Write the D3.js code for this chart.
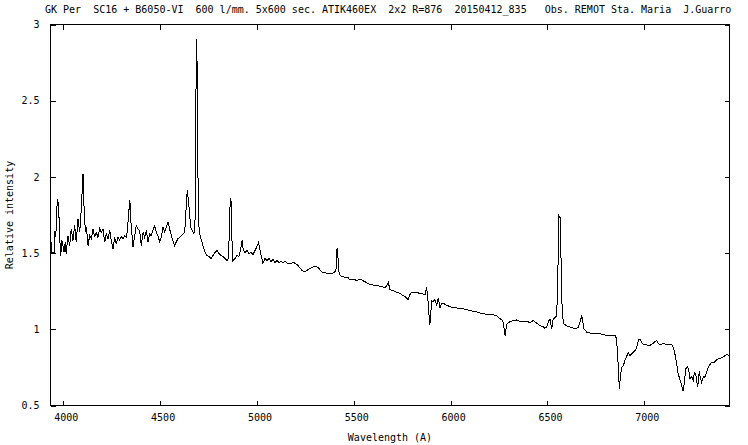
<!DOCTYPE html>
<html>
<head>
<meta charset="utf-8">
<script src="https://cdn.jsdelivr.net/npm/d3@7"></script>
<style>
  html, body { margin: 0; padding: 0; background: #fff; }
  svg { display: block; }
  text { font-family: "DejaVu Sans Mono", "Liberation Mono", monospace; font-size: 10px; fill: #000; }
</style>
</head>
<body>
<script>
const titleText = " GK Per  SC16 + B6050-VI  600 l/mm. 5x600 sec. ATIK460EX  2x2 R=876  20150412_835   Obs. REMOT Sta. Maria  J.Guarro";
const xLabel = "Wavelength (A)";
const yLabel = "Relative intensity";
const xTicks = [4000, 4500, 5000, 5500, 6000, 6500, 7000];
const yTicks = [0.5, 1, 1.5, 2, 2.5, 3];
const xDomain = [3934, 7440];
const yDomain = [0.5, 3];

const wavelength = [
3935,3938,3956,3957,3961,3964,3969,3976,3981,3987,3993,4004,4010,4015,4024,4033,4041,4050,4059,4067,
4076,4085,4093,4102,4107,4114,4119,4128,4136,4145,4153,4162,4170,4179,4188,4196,4205,4214,4222,4231,
4240,4248,4257,4265,4274,4282,4291,4299,4308,4317,4325,4330,4338,4344,4348,4355,4360,4369,4377,4386,
4394,4403,4412,4420,4429,4437,4446,4454,4463,4472,4480,4489,4498,4506,4515,4524,4532,4541,4549,4558,
4566,4575,4583,4592,4609,4627,4635,4640,4647,4658,4670,4675,4682,4684,4687,4690,4694,4697,4703,4711,
4721,4732,4742,4752,4763,4773,4783,4794,4804,4814,4825,4835,4845,4853,4859,4862,4866,4870,4876,4887,
4897,4907,4915,4923,4930,4938,4949,4959,4969,4980,4990,5000,5008,5016,5023,5031,5041,5052,5062,5072,
5083,5093,5103,5114,5124,5134,5145,5160,5171,5191,5212,5233,5248,5263,5284,5300,5315,5336,5356,5377,
5393,5408,5412,5415,5418,5422,5429,5444,5455,5470,5480,5496,5515,5527,5541,5553,5563,5573,5584,5599,
5615,5635,5651,5661,5671,5678,5687,5702,5721,5739,5754,5764,5780,5790,5799,5816,5831,5842,5857,5868,
5876,5885,5890,5893,5897,5902,5909,5919,5928,5936,5945,5953,5962,5980,5997,6014,6030,6048,6064,6083,
6100,6117,6134,6152,6177,6203,6221,6238,6255,6269,6276,6281,6285,6289,6306,6324,6340,6358,6374,6393,
6410,6427,6443,6461,6477,6487,6496,6504,6513,6522,6530,6539,6548,6556,6559,6565,6568,6573,6582,6593,
6608,6624,6642,6659,6671,6677,6683,6689,6703,6720,6737,6753,6771,6789,6806,6823,6838,6849,6857,6866,
6871,6876,6883,6892,6900,6909,6917,6926,6935,6943,6952,6961,6969,6978,6987,6995,7012,7029,7046,7064,
7072,7081,7098,7116,7133,7141,7150,7158,7167,7175,7188,7201,7208,7214,7224,7231,7236,7245,7253,7259,
7265,7276,7284,7290,7296,7305,7313,7322,7330,7339,7348,7360,7374,7386,7400,7411,7425,7437
];

const intensity = [
1.655,1.504,1.504,1.648,1.609,1.675,1.856,1.812,1.615,1.484,1.583,1.506,1.572,1.495,1.615,1.550,1.659,1.583,1.681,1.572,
1.725,1.637,1.791,2.020,1.812,1.637,1.670,1.550,1.615,1.594,1.659,1.604,1.637,1.604,1.659,1.637,1.659,1.572,1.627,1.594,
1.648,1.583,1.528,1.604,1.561,1.604,1.583,1.611,1.594,1.615,1.604,1.637,1.768,1.845,1.725,1.615,1.539,1.615,1.681,1.659,
1.648,1.550,1.637,1.604,1.648,1.572,1.627,1.615,1.648,1.681,1.637,1.615,1.572,1.604,1.670,1.637,1.670,1.703,1.659,1.615,
1.583,1.550,1.572,1.594,1.615,1.637,1.812,1.911,1.834,1.670,1.637,1.629,1.747,2.304,2.906,2.829,2.304,1.734,1.635,1.596,
1.550,1.504,1.484,1.478,1.465,1.484,1.504,1.517,1.497,1.484,1.478,1.465,1.451,1.465,1.714,1.858,1.845,1.615,1.451,1.465,
1.484,1.478,1.517,1.583,1.517,1.504,1.517,1.497,1.504,1.491,1.517,1.543,1.570,1.517,1.478,1.432,1.465,1.451,1.465,1.445,
1.458,1.438,1.451,1.438,1.445,1.438,1.445,1.432,1.432,1.438,1.419,1.386,1.375,1.392,1.407,1.412,1.407,1.375,1.369,1.366,
1.368,1.386,1.517,1.535,1.484,1.386,1.353,1.346,1.338,1.340,1.325,1.330,1.320,1.327,1.325,1.314,1.309,1.301,1.294,1.291,
1.287,1.283,1.278,1.272,1.287,1.309,1.259,1.255,1.243,1.235,1.222,1.215,1.194,1.228,1.243,1.238,1.241,1.233,1.232,1.228,
1.276,1.167,1.058,1.031,1.091,1.189,1.182,1.194,1.156,1.207,1.141,1.169,1.171,1.156,1.150,1.141,1.140,1.134,1.136,1.128,
1.123,1.119,1.114,1.106,1.100,1.097,1.094,1.091,1.069,1.058,1.005,0.959,0.992,1.031,1.051,1.058,1.061,1.053,1.051,1.051,
1.045,1.058,1.041,1.025,1.018,1.007,1.014,1.047,1.069,1.003,1.069,1.077,1.091,1.495,1.747,1.734,1.648,1.211,1.036,1.028,
1.018,1.012,1.003,1.012,1.058,1.091,1.045,1.003,0.981,0.976,0.970,0.972,0.970,0.966,0.959,0.959,0.956,0.959,0.938,0.751,
0.610,0.677,0.751,0.762,0.795,0.822,0.850,0.828,0.839,0.848,0.861,0.881,0.927,0.938,0.913,0.900,0.897,0.894,0.909,0.927,
0.907,0.900,0.907,0.900,0.900,0.900,0.881,0.839,0.774,0.708,0.653,0.594,0.664,0.741,0.756,0.717,0.675,0.690,0.664,0.717,
0.708,0.620,0.725,0.677,0.653,0.690,0.686,0.717,0.751,0.769,0.784,0.782,0.800,0.808,0.813,0.822,0.835,0.828
];

const W = 748, H = 445;
const mLeft = 50.5, mRight = 729.5, mTop = 24.5, mBottom = 405.5;
const tickLen = 5;

const svg = d3.select("body").append("svg").attr("width", W).attr("height", H);
svg.append("rect").attr("width", W).attr("height", H).attr("fill", "#fff");

const x = d3.scaleLinear().domain(xDomain).range([mLeft, mRight]);
const y = d3.scaleLinear().domain(yDomain).range([mBottom, mTop]);

const gB = svg.append("g").attr("transform", `translate(0,${mBottom})`)
  .call(d3.axisBottom(x).tickValues(xTicks).tickSize(-tickLen).tickPadding(8).tickFormat(d3.format("d")));
const gT = svg.append("g").attr("transform", `translate(0,${mTop})`)
  .call(d3.axisTop(x).tickValues(xTicks).tickSize(-tickLen).tickFormat(""));
const gL = svg.append("g").attr("transform", `translate(${mLeft},0)`)
  .call(d3.axisLeft(y).tickValues(yTicks).tickSize(-tickLen).tickPadding(11).tickFormat(d => String(d)));
const gR = svg.append("g").attr("transform", `translate(${mRight},0)`)
  .call(d3.axisRight(y).tickValues(yTicks).tickSize(-tickLen).tickFormat(""));

[gB, gT, gL, gR].forEach(g => {
  g.select(".domain").remove();
  g.selectAll(".tick line").attr("stroke", "#000").attr("shape-rendering", "crispEdges");
  g.selectAll("text").attr("font-family", null).attr("font-size", null).attr("fill", "#000");
});
gB.selectAll(".tick text").attr("dx", "2.5");

svg.append("rect")
  .attr("x", mLeft).attr("y", mTop)
  .attr("width", mRight - mLeft).attr("height", mBottom - mTop)
  .attr("fill", "none").attr("stroke", "#000").attr("stroke-width", 1)
  .attr("shape-rendering", "crispEdges");

const pts = wavelength.map((w, i) => [w, intensity[i]]);
const line = d3.line().x(d => x(d[0])).y(d => y(d[1]));
svg.append("path")
  .datum(pts)
  .attr("d", line)
  .attr("fill", "none")
  .attr("stroke", "#000")
  .attr("stroke-width", 1)
  .attr("shape-rendering", "crispEdges")
  .attr("stroke-linejoin", "miter");

svg.append("text")
  .attr("x", 39).attr("y", 13)
  .attr("xml:space", "preserve")
  .style("white-space", "pre")
  .text(titleText);

svg.append("text")
  .attr("x", (mLeft + mRight) / 2).attr("y", 441)
  .attr("text-anchor", "middle")
  .text(xLabel);

svg.append("text")
  .attr("transform", `translate(13,${(mTop + mBottom) / 2}) rotate(-90)`)
  .attr("text-anchor", "middle")
  .text(yLabel);
</script>
</body>
</html>
